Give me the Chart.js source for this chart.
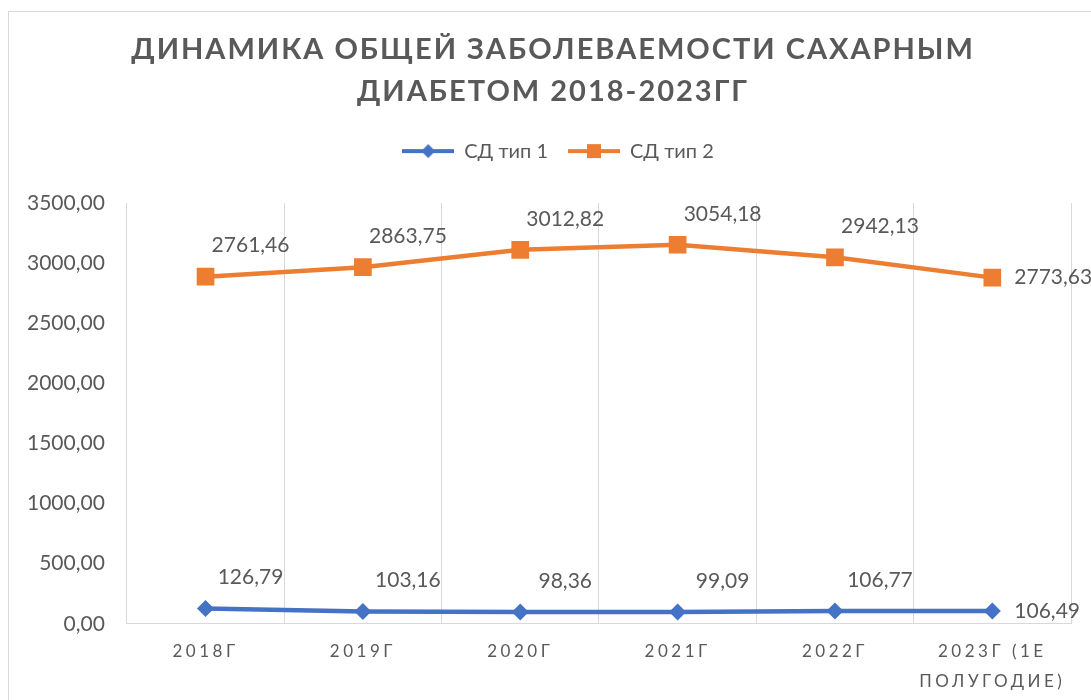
<!DOCTYPE html>
<html>
<head>
<meta charset="utf-8">
<script src="https://cdn.jsdelivr.net/npm/chart.js@4.4.0/dist/chart.umd.min.js"></script>
<style>
html, body { margin: 0; padding: 0; background: #fff; overflow: hidden; }
#frame { position: absolute; left: 8px; top: 11px; width: 1200px; height: 800px; border: 1px solid #d9d9d9; }
#wrap { position: absolute; left: 0; top: 0; width: 1091px; height: 700px; }
</style>
</head>
<body>
<div id="frame"></div>
<div id="wrap"><canvas id="chartDiabetes"></canvas></div>
<script>
// Daten
const years = ['2018Г', '2019Г', '2020Г', '2021Г', '2022Г', ['2023Г (1Е', 'ПОЛУГОДИЕ)']];
const sdType1 = [126.79, 103.16, 98.36, 99.09, 106.77, 106.49];
const sdType2 = [2761.46, 2863.75, 3012.82, 3054.18, 2942.13, 2773.63];
const yMin = 0;
const yMax = 3500;
const yStep = 500;

const blue = '#4472C4';
const orange = '#ED7D31';
const grey = '#595959';

function fmt(v) {
    return v.toFixed(2).replace('.', ',');
}

// kleines Legenden-Symbol: Linie mit Marker
function legendIcon(color, style) {
    const c = document.createElement('canvas');
    c.width = 52;
    c.height = 18;
    const g = c.getContext('2d');
    g.strokeStyle = color;
    g.fillStyle = color;
    g.lineWidth = 4;
    g.beginPath();
    g.moveTo(0, 9);
    g.lineTo(52, 9);
    g.stroke();
    g.beginPath();
    if (style === 'diamond') {
        g.moveTo(26, 2); g.lineTo(33, 9); g.lineTo(26, 16); g.lineTo(19, 9);
    } else {
        g.rect(19, 2, 14, 14);
    }
    g.closePath();
    g.fill();
    return c;
}
const icons = [legendIcon(blue, 'diamond'), legendIcon(orange, 'square')];

// Werte neben die Punkte schreiben
const valueLabels = {
    id: 'valueLabels',
    afterDatasetsDraw(chart) {
        const ctx = chart.ctx;
        ctx.save();
        ctx.font = '21px Lato';
        ctx.fillStyle = grey;
        ctx.textBaseline = 'middle';
        chart.data.datasets.forEach((ds, i) => {
            const meta = chart.getDatasetMeta(i);
            meta.data.forEach((pt, j) => {
                const last = j === meta.data.length - 1;
                if (last) {
                    ctx.textAlign = 'left';
                    ctx.fillText(fmt(ds.data[j]), pt.x + 22, pt.y);
                } else {
                    ctx.textAlign = 'center';
                    ctx.fillText(fmt(ds.data[j]), pt.x + 45, pt.y - 31);
                }
            });
        });
        ctx.restore();
    }
};

// Sperrschrift fuer Titel und X-Achse, Abstand unter der Legende
const spacing = {
    id: 'spacing',
    afterInit(chart) {
        const tb = chart.titleBlock;
        const drawTitle = tb.draw;
        tb.draw = function () {
            chart.ctx.save();
            chart.ctx.translate(15, 0);
            chart.ctx.letterSpacing = '2px';
            drawTitle.apply(this, arguments);
            chart.ctx.restore();
        };
        const lg = chart.legend;
        const fitLegend = lg.fit;
        lg.fit = function () {
            fitLegend.apply(this, arguments);
            this.height += 32;
        };
        const drawLegend = lg.draw;
        lg.draw = function () {
            chart.ctx.save();
            chart.ctx.translate(20, 0);
            drawLegend.apply(this, arguments);
            chart.ctx.restore();
        };
    },
    afterUpdate(chart) {
        const sx = chart.scales.x;
        if (sx && !sx._spaced) {
            const drawLabels = sx.drawLabels;
            sx.drawLabels = function () {
                chart.ctx.save();
                chart.ctx.letterSpacing = '3.5px';
                drawLabels.apply(this, arguments);
                chart.ctx.restore();
            };
            sx._spaced = true;
        }
    }
};

const ctx = document.getElementById('chartDiabetes');
const myChart = new Chart(ctx, {
    type: 'line',
    data: {
        labels: years,
        datasets: [{
            label: 'СД тип 1',
            data: sdType1,
            borderColor: blue,
            backgroundColor: blue,
            borderWidth: 4.5,
            pointStyle: 'rectRot',
            pointRadius: 8.5,
            pointBorderWidth: 0,
            tension: 0
        }, {
            label: 'СД тип 2',
            data: sdType2,
            borderColor: orange,
            backgroundColor: orange,
            borderWidth: 4.5,
            pointStyle: 'rect',
            pointRadius: 12.5,
            pointBorderWidth: 0,
            tension: 0
        }]
    },
    options: {
        responsive: true,
        maintainAspectRatio: false,
        animation: false,
        events: [],
        layout: {
            padding: {left: 5, right: 20, top: 0, bottom: -9}
        },
        scales: {
            x: {
                offset: true,
                grid: {color: '#d9d9d9', lineWidth: 1, offset: true, drawTicks: false},
                border: {color: '#d9d9d9', width: 1},
                ticks: {
                    color: grey,
                    font: {family: 'Lato', size: 17, lineHeight: 1.8},
                    padding: 12,
                    maxRotation: 0,
                    autoSkip: false
                }
            },
            y: {
                stacked: true,
                min: yMin,
                max: yMax,
                grid: {display: false, drawTicks: false},
                border: {display: false},
                ticks: {
                    stepSize: yStep,
                    color: grey,
                    font: {family: 'Lato', size: 21},
                    padding: 22,
                    callback: (v) => fmt(v)
                }
            }
        },
        plugins: {
            title: {
                display: true,
                text: ['ДИНАМИКА ОБЩЕЙ ЗАБОЛЕВАЕМОСТИ САХАРНЫМ', 'ДИАБЕТОМ 2018-2023ГГ'],
                color: grey,
                font: {family: 'Lato', size: 29, weight: 'bold', lineHeight: 1.45},
                padding: {top: 29, bottom: 8}
            },
            legend: {
                display: true,
                position: 'top',
                labels: {
                    color: grey,
                    font: {family: 'Lato', size: 20},
                    usePointStyle: true,
                    pointStyleWidth: 52,
                    padding: 20,
                    generateLabels: (chart) => {
                        const items = Chart.defaults.plugins.legend.labels.generateLabels(chart);
                        items.forEach((it, i) => { it.pointStyle = icons[i]; });
                        return items;
                    }
                }
            },
            tooltip: {enabled: false}
        }
    },
    plugins: [valueLabels, spacing]
});
</script>
</body>
</html>
